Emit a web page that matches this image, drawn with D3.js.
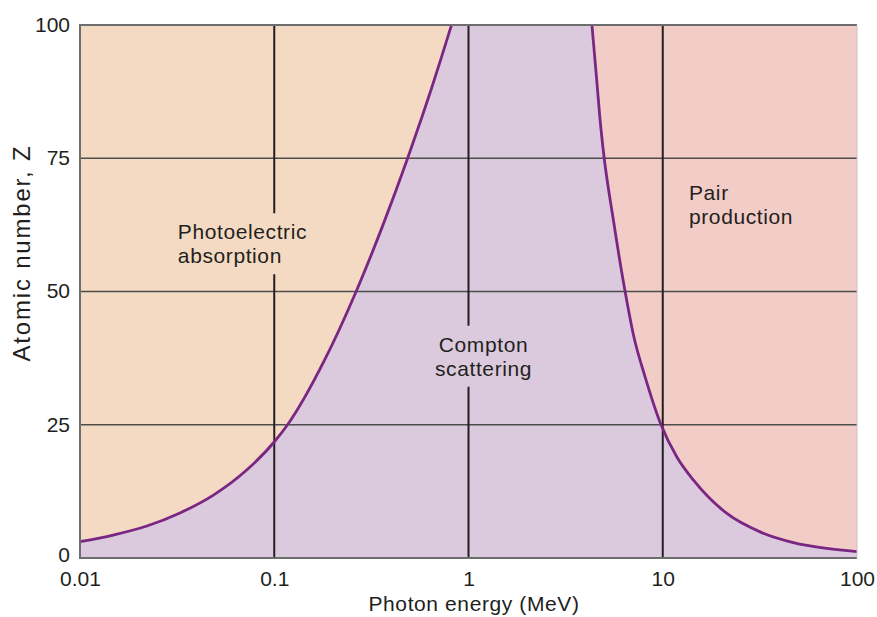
<!DOCTYPE html>
<html><head><meta charset="utf-8">
<script src="https://cdn.jsdelivr.net/npm/d3@7"></script>
<style>
html,body{margin:0;padding:0;background:#fff;}
svg text{font-family:"Liberation Sans",Arial,Helvetica,sans-serif;fill:#231f20;}
</style></head>
<body><svg id="c" width="877" height="617"></svg>
<script>
// ---- data ----
const xTicks = [0.01, 0.1, 1, 10, 100];
const xTickLabels = ["0.01", "0.1", "1", "10", "100"];
const yTicks = [0, 25, 50, 75, 100];
const yTickLabels = ["0", "25", "50", "75", "100"];
// boundary photoelectric / Compton: energy (MeV) and Z
const photoComptonE = [0.01, 0.0148, 0.0221, 0.0327, 0.0484, 0.0721, 0.1009, 0.1171, 0.182, 0.264, 0.363, 0.486, 0.573, 0.641, 0.718, 0.818];
const photoComptonZ = [3.06, 4.3, 6.0, 8.45, 11.75, 16.5, 21.95, 25, 37.2, 50, 62.5, 75, 82.5, 87.8, 93.4, 100];
// boundary Compton / pair production
const comptonPairE = [4.32, 4.57, 4.75, 4.94, 5.57, 6.4, 7.1, 8.11, 9.8, 11.8, 14.4, 21.3, 31.7, 47, 70, 100];
const comptonPairZ = [100, 89.7, 82.5, 76.5, 63.4, 50, 41.5, 34, 25, 19, 14.6, 8.4, 4.9, 2.9, 1.8, 1.2];
const regionLabels = [
  {lines: ["Photoelectric", "absorption"], E: 0.0319, Z: 59.8, anchor: "start", bg: true},
  {lines: ["Compton", "scattering"], E: 1.195, Z: 38.7, anchor: "middle", bg: true},
  {lines: ["Pair", "production"], E: 13.65, Z: 67.2, anchor: "start", bg: false}
];

// ---- layout ----
const L = 80, R = 857, T = 25, B = 558;
const svg = d3.select("#c");
const x = d3.scaleLog().domain([0.01, 100]).range([L, R]);
const y = d3.scaleLinear().domain([0, 100]).range([B, T]);

const cPhoto = "#f4dac2", cCompton = "#dbcadd", cPair = "#f2ccc7", cCurve = "#7a2683";

const left = photoComptonE.map((e, i) => [e, photoComptonZ[i]]);
const right = comptonPairE.map((e, i) => [e, comptonPairZ[i]]);

svg.append("rect").attr("x", L).attr("y", T).attr("width", R - L).attr("height", B - T).attr("fill", cPhoto);

const line = d3.line().x(d => x(d[0])).y(d => y(d[1])).curve(d3.curveMonotoneX);

const comptonPath = line(left) + "L" + line(right).slice(1) + "L" + x(100) + "," + y(0) + "L" + x(0.01) + "," + y(0) + "Z";
svg.append("path").attr("d", comptonPath).attr("fill", cCompton);
const pairPath = line(right) + "L" + x(100) + "," + y(100) + "Z";
svg.append("path").attr("d", pairPath).attr("fill", cPair);

svg.append("g").selectAll("line").data(yTicks.slice(1, -1)).join("line")
  .attr("x1", L).attr("x2", R).attr("y1", d => y(d)).attr("y2", d => y(d))
  .attr("stroke", "#4d4d4d").attr("stroke-width", 1.4);
svg.append("g").selectAll("line").data(xTicks.slice(1, -1)).join("line")
  .attr("x1", d => x(d)).attr("x2", d => x(d)).attr("y1", T).attr("y2", B)
  .attr("stroke", "#231f20").attr("stroke-width", 2);

svg.append("path").attr("d", line(left)).attr("fill", "none").attr("stroke", cCurve).attr("stroke-width", 2.8);
svg.append("path").attr("d", line(right)).attr("fill", "none").attr("stroke", cCurve).attr("stroke-width", 2.8);

svg.append("path").attr("d", `M${R},${T}H${L}V${B}H${R}`).attr("fill", "none").attr("stroke", "#6d6d6d").attr("stroke-width", 2);
svg.append("line").attr("x1", R).attr("x2", R).attr("y1", T).attr("y2", B).attr("stroke", "#cfc0c0").attr("stroke-width", 1);

regionLabels.forEach((lab, i) => {
  const g = svg.append("g");
  const px = x(lab.E), py = y(lab.Z);
  const t = g.append("text").attr("x", px).attr("y", py).attr("text-anchor", lab.anchor)
    .style("font-size", "21px").style("letter-spacing", "0.6px");
  lab.lines.forEach((s, k) => t.append("tspan").attr("x", px).attr("dy", k === 0 ? 0 : 24).text(s));
  if (lab.bg) {
    const bb = t.node().getBBox();
    g.insert("rect", "text").attr("x", bb.x - 6).attr("y", bb.y - 7).attr("width", bb.width + 12).attr("height", bb.height + 14)
      .attr("fill", i === 0 ? cPhoto : cCompton);
  }
});

const xAxis = d3.axisBottom(x).tickValues(xTicks).tickFormat((d, i) => xTickLabels[i]).tickSize(0);
const gx = svg.append("g").attr("transform", `translate(0,${B})`).call(xAxis);
gx.select(".domain").remove();
gx.selectAll("text").style("font-size", "21px").attr("fill", "#231f20").attr("dy", null).attr("y", 28);

const yAxis = d3.axisLeft(y).tickValues(yTicks).tickFormat((d, i) => yTickLabels[i]).tickSize(0).tickPadding(10);
const gy = svg.append("g").attr("transform", `translate(${L},0)`).call(yAxis);
gy.select(".domain").remove();
gy.selectAll("text").style("font-size", "21px").attr("fill", "#231f20").attr("dy", d => d === 0 ? "0.18em" : "0.3em");

svg.append("text").attr("x", 474).attr("y", 611).attr("text-anchor", "middle")
  .style("font-size", "21px").style("letter-spacing", "0.6px").text("Photon energy (MeV)");
svg.append("text").attr("transform", "translate(30,253) rotate(-90)").attr("text-anchor", "middle")
  .style("font-size", "24px").style("letter-spacing", "1.8px").text("Atomic number, Z");
</script></body></html>
